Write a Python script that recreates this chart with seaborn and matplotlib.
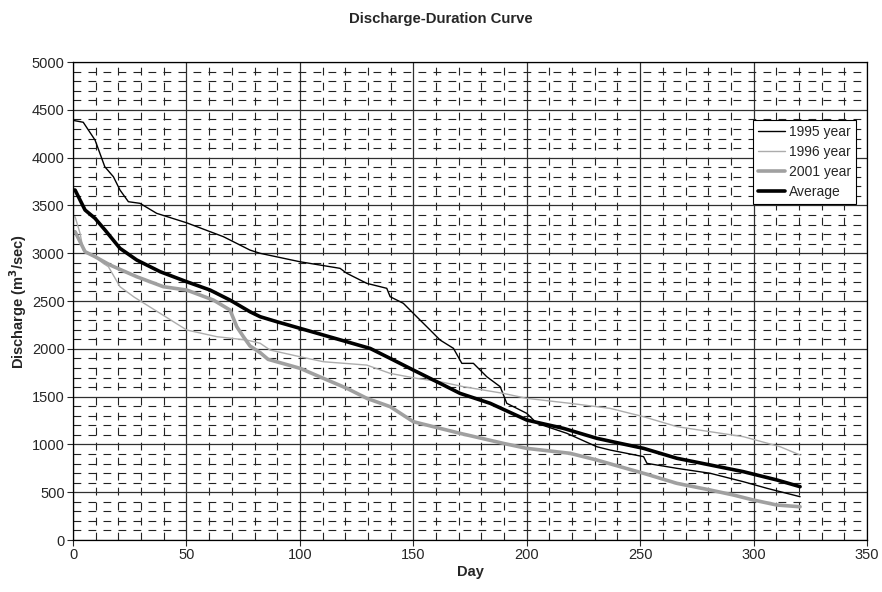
import seaborn as sns
import matplotlib.pyplot as plt
import pandas as pd
from matplotlib.ticker import MultipleLocator

# values
day_1995 = [0, 4.5, 9.7, 14, 17.8, 20.7, 24.4, 29.5, 36.9, 50, 66.3, 78, 82.5, 100, 117.7,
            120.7, 129.5, 138.3, 139.8, 145.6, 151.5, 157.4, 161.8, 167.7, 171.4, 176.5,
            182.4, 188.3, 191.2, 200, 204.5, 217.7, 230.9, 236.8, 251.5, 253, 266.2, 280.9,
            295.5, 305.9, 320.5]
q_1995 = [4390, 4370, 4184, 3905, 3800, 3661, 3539, 3522, 3417, 3319, 3173, 3033, 2999, 2911,
          2842, 2790, 2685, 2633, 2545, 2476, 2336, 2197, 2092, 2005, 1848, 1848, 1708, 1604,
          1430, 1325, 1221, 1116, 976, 941, 872, 802, 750, 698, 610, 541, 453]

day_1996 = [0, 0.9, 3.1, 4.5, 9.7, 13.4, 15.6, 20.7, 27, 38.4, 50.1, 63.4, 76.6, 82.5, 86.9,
            100.1, 110.4, 129.5, 139.8, 151.5, 161.8, 172.1, 189.7, 200, 219.1, 236.8, 251.5,
            266.2, 280.9, 295.5, 311.7, 320.5]
q_1996 = [3380, 3382, 3208, 3033, 2960, 2893, 2859, 2650, 2540, 2371, 2197, 2127, 2092, 2058,
          1987, 1917, 1865, 1830, 1743, 1691, 1656, 1604, 1534, 1482, 1430, 1377, 1290, 1186,
          1133, 1081, 976, 889]

day_2001 = [0, 0.9, 5.3, 9.7, 16.3, 28.1, 39.8, 50.1, 61.9, 69.2, 72.2, 75.1, 78, 82.5, 86,
            100.1, 110.4, 120.7, 129.5, 139.8, 150, 161.8, 170.6, 189.7, 200, 219.1, 230.9,
            241.2, 251.5, 266.2, 280.9, 291.1, 300, 310.3, 320.5]
q_2001 = [3220, 3225, 3016, 2964, 2877, 2754, 2650, 2615, 2510, 2406, 2231, 2127, 2030, 1960,
          1890, 1796, 1691, 1587, 1482, 1395, 1238, 1168, 1116, 1011, 959, 907, 837, 767, 698,
          593, 523, 471, 418, 366, 348]

day_avg = [0, 0.9, 5.3, 9.7, 14.1, 20.7, 28.1, 38.4, 50.1, 60.4, 69.2, 78, 82.5, 89.8, 100.1,
           110.4, 120.7, 131, 139.8, 150, 161.8, 170.6, 183.9, 200, 216.2, 230.9, 241.2, 251.5,
           266.2, 280.9, 295.5, 310.3, 320.5]
q_avg = [3660, 3661, 3452, 3365, 3243, 3051, 2929, 2807, 2702, 2615, 2510, 2388, 2336, 2284,
         2214, 2144, 2074, 2004, 1900, 1778, 1639, 1534, 1430, 1255, 1168, 1064, 1011, 959,
         855, 785, 715, 628, 558]

sns.set_style('white')
plt.rcParams['font.family'] = ['Liberation Sans', 'DejaVu Sans']

fig = plt.figure(figsize=(8.82, 5.92), dpi=100)
ax = fig.add_axes([0.0828, 0.0878, 0.9002, 0.8074])

series = [
    ('1995 year', day_1995, q_1995, 'black', 1.0),
    ('1996 year', day_1996, q_1996, '#acacac', 1.0),
    ('2001 year', day_2001, q_2001, '#a0a0a0', 2.6),
    ('Average', day_avg, q_avg, 'black', 2.6),
]
for name, d, q, col, lw in series:
    df = pd.DataFrame({'Day': d, 'Discharge': q})
    sns.lineplot(data=df, x='Day', y='Discharge', ax=ax, color=col, lw=lw, label=name)

ax.set_xlim(0, 350)
ax.set_ylim(0, 5000)
ax.xaxis.set_major_locator(MultipleLocator(50))
ax.yaxis.set_major_locator(MultipleLocator(500))
ax.xaxis.set_minor_locator(MultipleLocator(10))
ax.yaxis.set_minor_locator(MultipleLocator(100))
ax.grid(which='major', color='#303030', lw=0.9, ls='-')
ax.grid(which='minor', color='#222222', lw=0.8, ls=(0, (7, 6.5)))
ax.set_axisbelow(True)
ax.tick_params(which='major', direction='out', length=4, width=0.8, labelsize=10.5,
               bottom=True, left=True, pad=2)
ax.tick_params(which='minor', length=0)
for s in ax.spines.values():
    s.set_color('black')
    s.set_linewidth(0.9)

ax.set_xlabel('Day', fontsize=10.5, fontweight='bold', labelpad=2)
ax.set_ylabel('Discharge (m$^\\mathbf{3}$/sec)', fontsize=10.5, fontweight='bold', labelpad=2)
fig.text(0.5, 0.968, 'Discharge-Duration Curve', ha='center', va='center',
         fontsize=10.7, fontweight='bold')

leg = ax.legend(loc='upper right', bbox_to_anchor=(0.986, 0.879), fontsize=10,
                frameon=True, fancybox=False, handlelength=1.95, handletextpad=0.25,
                borderpad=0.35, labelspacing=0.43, borderaxespad=0)
leg.get_frame().set_edgecolor('black')
leg.get_frame().set_linewidth(0.8)
leg.get_frame().set_alpha(1)

fig.savefig('out.png', dpi=100)
